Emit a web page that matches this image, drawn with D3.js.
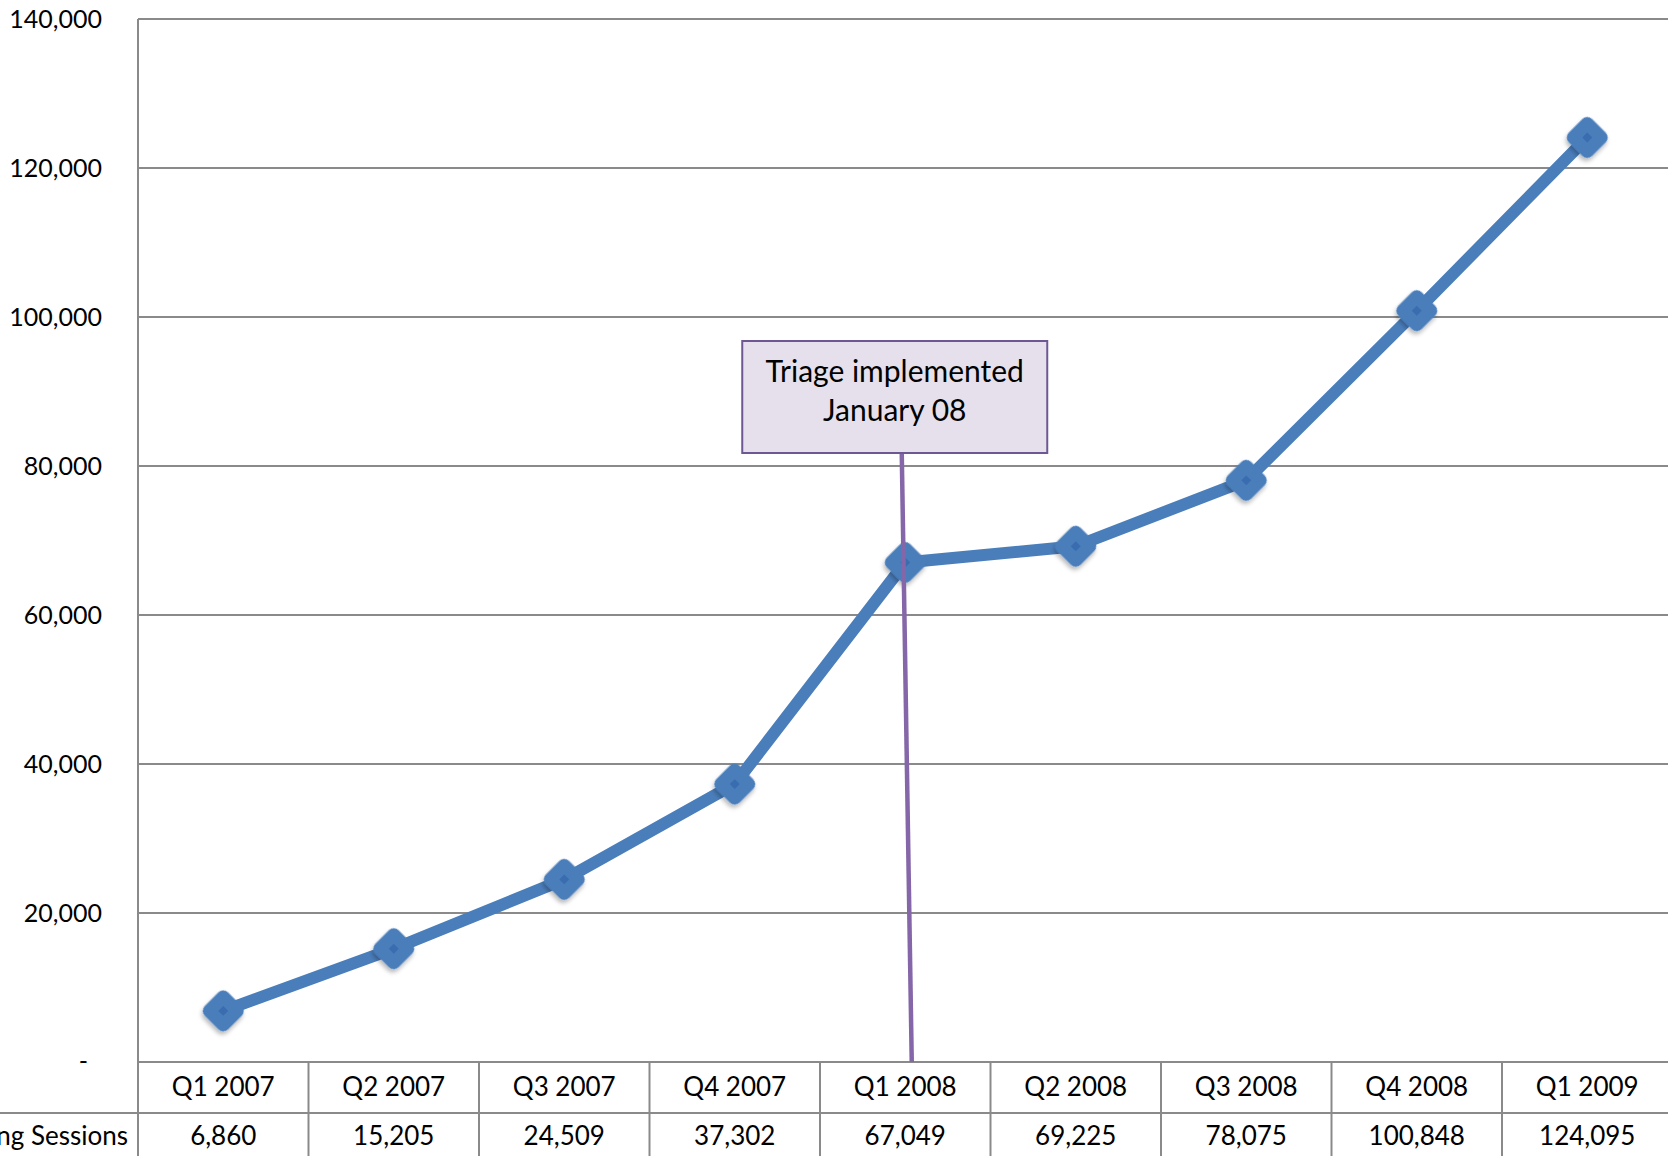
<!DOCTYPE html>
<html>
<head>
<meta charset="utf-8">
<script src="https://cdn.jsdelivr.net/npm/d3@7"></script>
<style>
  html, body { margin: 0; padding: 0; background: #fff; overflow: hidden; }
  svg { display: block; font-family: Lato, "Open Sans", sans-serif; }
</style>
</head>
<body>
<svg id="chart" width="1668" height="1156"></svg>
<script>
// Quarterly training sessions
const categories = ["Q1 2007", "Q2 2007", "Q3 2007", "Q4 2007", "Q1 2008", "Q2 2008", "Q3 2008", "Q4 2008", "Q1 2009"];
const sessions = [6860, 15205, 24509, 37302, 67049, 69225, 78075, 100848, 124095];
const seriesName = "Training Sessions";
const yTicks = [0, 20000, 40000, 60000, 80000, 100000, 120000, 140000];
const annotationLines = ["Triage implemented", "January 08"];
const annotationCategory = "Q1 2008";

const W = 1668, H = 1156;
const plotLeft = 138, plotTop = 19, plotBottom = 1062;
const colW = 170.5;
const rowH = 51;

const svg = d3.select("#chart");

const x = d3.scaleBand().domain(categories).range([plotLeft, plotLeft + colW * categories.length]).padding(0);
const y = d3.scaleLinear().domain([0, 140000]).range([plotBottom, plotTop]);

const fmt = d3.format(",");
const gridColor = "#8a8a8a";
const blue = "#4a7ebb";

// drop shadow for markers
const defs = svg.append("defs");
const f = defs.append("filter").attr("id", "shadow").attr("x", "-50%").attr("y", "-50%").attr("width", "200%").attr("height", "200%");
f.append("feDropShadow").attr("dx", 1.5).attr("dy", 3).attr("stdDeviation", 2.2)
  .attr("flood-color", "#000").attr("flood-opacity", 0.28);

// gridlines
const gGrid = svg.append("g");
gGrid.selectAll("line").data(yTicks).join("line")
  .attr("x1", plotLeft).attr("x2", W)
  .attr("y1", d => y(d)).attr("y2", d => y(d))
  .attr("stroke", gridColor).attr("stroke-width", 2);

// y axis labels
const yAxis = d3.axisLeft(y).tickValues(yTicks).tickSize(0).tickPadding(0)
  .tickFormat(d => d === 0 ? "" : fmt(d));
const gY = svg.append("g").attr("transform", `translate(${plotLeft - 36},0)`).call(yAxis);
gY.select(".domain").remove();
gY.selectAll("text").attr("font-size", 25).attr("fill", "#000")
  .attr("font-family", "Lato, 'Open Sans', sans-serif");
svg.append("text").attr("x", 88).attr("y", y(0)).attr("dy", "0.32em")
  .attr("text-anchor", "end").attr("font-size", 25).text("-");

// vertical axis line, running down through the data table
svg.append("line").attr("x1", plotLeft).attr("x2", plotLeft).attr("y1", plotTop).attr("y2", H)
  .attr("stroke", gridColor).attr("stroke-width", 2);

// data table under the plot
const gT = svg.append("g");
gT.append("line").attr("x1", 0).attr("x2", W).attr("y1", plotBottom + rowH).attr("y2", plotBottom + rowH)
  .attr("stroke", gridColor).attr("stroke-width", 2);
gT.selectAll("line.col").data(categories).join("line").attr("class", "col")
  .attr("x1", d => x(d) + colW).attr("x2", d => x(d) + colW)
  .attr("y1", plotBottom).attr("y2", H)
  .attr("stroke", gridColor).attr("stroke-width", 2);
gT.selectAll("text.cat").data(categories).join("text").attr("class", "cat")
  .attr("x", d => x(d) + colW / 2).attr("y", plotBottom + rowH / 2).attr("dy", "0.34em")
  .attr("text-anchor", "middle").attr("font-size", 26).text(d => d);
gT.selectAll("text.val").data(sessions).join("text").attr("class", "val")
  .attr("x", (d, i) => x(categories[i]) + colW / 2).attr("y", plotBottom + rowH * 1.5 - 2).attr("dy", "0.34em")
  .attr("text-anchor", "middle").attr("font-size", 26).text(d => fmt(d));
gT.append("text").attr("x", plotLeft - 10).attr("y", plotBottom + rowH * 1.5 - 2).attr("dy", "0.34em")
  .attr("text-anchor", "end").attr("font-size", 26).text(seriesName);

// series line
const pts = sessions.map((v, i) => [x(categories[i]) + colW / 2, y(v)]);
svg.append("path").datum(pts)
  .attr("d", d3.line())
  .attr("fill", "none").attr("stroke", blue).attr("stroke-width", 12)
  .attr("stroke-linejoin", "round").attr("stroke-linecap", "round");

// annotation: box with leader line down to the category
const ax = x(annotationCategory) + colW / 2;
const box = { x: ax - 163, y: 341, w: 305, h: 112 };
const leader = { x1: ax - 3.5, y1: box.y + box.h, x2: ax + 6.5, y2: plotBottom };

// markers: rounded diamonds with a small darker centre
const gM = svg.append("g");
const mk = gM.selectAll("g").data(pts).join("g")
  .attr("transform", d => `translate(${d[0]},${d[1]})`);
mk.append("rect").attr("x", -16.5).attr("y", -16.5).attr("width", 33).attr("height", 33)
  .attr("rx", 7).attr("transform", "rotate(45)")
  .attr("fill", blue).attr("filter", "url(#shadow)");
mk.append("rect").attr("x", -3.5).attr("y", -3.5).attr("width", 7).attr("height", 7)
  .attr("transform", "rotate(45)").attr("fill", "#3a6cb0");

// leader line drawn over the series
svg.append("line")
  .attr("x1", leader.x1).attr("y1", leader.y1)
  .attr("x2", leader.x2).attr("y2", leader.y2)
  .attr("stroke", "#8566a8").attr("stroke-width", 4.5);

svg.append("rect").attr("x", box.x).attr("y", box.y).attr("width", box.w).attr("height", box.h)
  .attr("fill", "#e6e0ec").attr("stroke", "#6e5893").attr("stroke-width", 2);
svg.append("text").attr("x", box.x + box.w / 2).attr("y", box.y + 41)
  .attr("text-anchor", "middle").attr("font-size", 30)
  .selectAll("tspan").data(annotationLines).join("tspan")
  .attr("x", box.x + box.w / 2).attr("dy", (d, i) => i === 0 ? 0 : 39).text(d => d);
</script>
</body>
</html>
